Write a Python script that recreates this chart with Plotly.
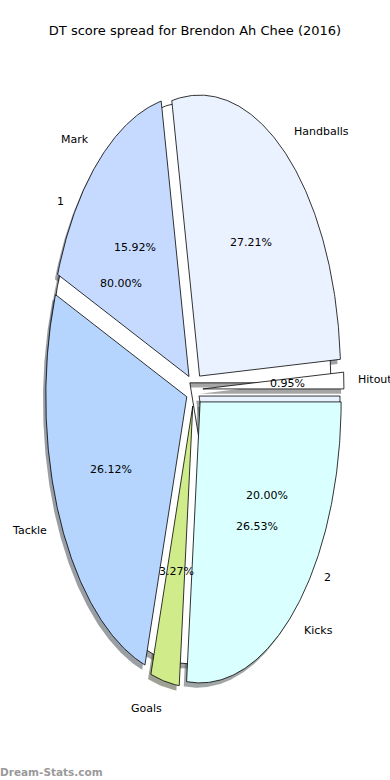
import numpy as np
import plotly.graph_objects as go

# ---- data ----
labels = ["Hitouts", "Handballs", "Mark", "Tackle", "Goals", "Kicks"]
values = [0.95, 27.21, 15.92, 26.12, 3.27, 26.53]
labels2 = ["1", "2"]
values2 = [80, 20]

# ---- style ----
colors = ["#ffffff", "#eaf1ff", "#c6daff", "#b5d5ff", "#d0eb8a", "#d9ffff"]
colors2 = ["#ffffff", "#eaf1ff"]
explode_main = 0.06
explode_second = 0.04
FONT = "DejaVu Sans"


def wedges(vals, explode):
    total = float(sum(vals))
    out = []
    t1 = 0.0
    for v in vals:
        t2 = t1 + 360.0 * v / total
        mid = np.deg2rad((t1 + t2) / 2)
        ox, oy = explode * np.cos(mid), explode * np.sin(mid)
        th = np.deg2rad(np.linspace(t1, t2, max(4, int((t2 - t1) * 2) + 2)))
        xs = np.concatenate([[ox], ox + np.cos(th), [ox]])
        ys = np.concatenate([[oy], oy + np.sin(th), [oy]])
        out.append(dict(x=xs, y=ys, ox=ox, oy=oy, mid=mid, pct=100.0 * v / total))
        t1 = t2
    return out


def shadow_color(hexc):
    r, g, b = (int(hexc[i:i + 2], 16) for i in (1, 3, 5))
    return "rgba(%d,%d,%d,0.5)" % (0.3 * r, 0.3 * g, 0.3 * b)


fig = go.Figure()
w2 = wedges(values2, explode_second)
w1 = wedges(values, explode_main)

# shadows (drawn beneath all wedges)
for wlist, cols in ((w2, colors2), (w1, colors)):
    for w, c in zip(wlist, cols):
        fig.add_trace(go.Scatter(x=w["x"] - 0.02, y=w["y"] - 0.017, mode="lines", fill="toself",
                                 fillcolor=shadow_color(c), line=dict(width=0),
                                 hoverinfo="skip", showlegend=False))
# second pie wedges, then main pie wedges
for wlist, cols in ((w2, colors2), (w1, colors)):
    for w, c in zip(wlist, cols):
        fig.add_trace(go.Scatter(x=w["x"], y=w["y"], mode="lines", fill="toself",
                                 fillcolor=c, line=dict(color="black", width=0.8),
                                 hoverinfo="skip", showlegend=False))

annotations = []
for wlist, labs in ((w2, labels2), (w1, labels)):
    for w, lab in zip(wlist, labs):
        lx = w["ox"] + 1.1 * np.cos(w["mid"])
        ly = w["oy"] + 1.1 * np.sin(w["mid"])
        annotations.append(dict(x=lx, y=ly, xref="x", yref="y", text=lab, showarrow=False,
                                xanchor="left" if lx > 0 else "right", yanchor="middle",
                                borderpad=0, borderwidth=0,
                                font=dict(family=FONT, size=11, color="black")))
        px = w["ox"] + 0.6 * np.cos(w["mid"])
        py = w["oy"] + 0.6 * np.sin(w["mid"])
        annotations.append(dict(x=px, y=py, xref="x", yref="y", text="%.2f%%" % w["pct"],
                                showarrow=False, xanchor="center", yanchor="middle",
                                borderpad=0, borderwidth=0,
                                font=dict(family=FONT, size=11, color="black")))

annotations.append(dict(x=0.0, y=0.0, xref="paper", yref="paper", text="<b>Dream-Stats.com</b>",
                        showarrow=False, xanchor="left", yanchor="bottom", xshift=0, yshift=2,
                        borderpad=0, borderwidth=0,
                        font=dict(family=FONT, size=10.5, color="#9a9a9a")))

fig.update_layout(
    width=390, height=780, autosize=False,
    margin=dict(l=0, r=0, t=0, b=0),
    paper_bgcolor="white", plot_bgcolor="white",
    title=dict(text="DT score spread for Brendon Ah Chee (2016)", x=0.5, xanchor="center",
               y=1 - 30 / 780, yanchor="middle", font=dict(family=FONT, size=13, color="black")),
    xaxis=dict(range=[-1.379, 1.387], visible=False, fixedrange=True),
    yaxis=dict(range=[-1.390, 1.386], visible=False, fixedrange=True),
    annotations=annotations,
)

fig.write_html("out.html", config={"displayModeBar": False},
               post_script="document.body.style.margin='0';")
